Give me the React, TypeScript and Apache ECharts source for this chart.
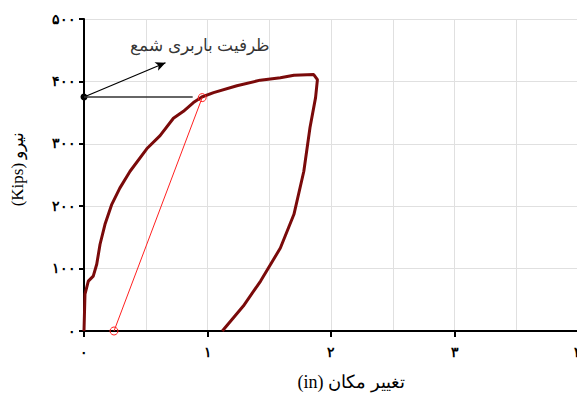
import React, { useEffect, useRef } from "react";
import * as echarts from "echarts";

const xTickLabels = ["۰", "۱", "۲", "۳", "۴"];
const yTickLabels = ["۰", "۱۰۰", "۲۰۰", "۳۰۰", "۴۰۰", "۵۰۰"];

// hysteresis curve (displacement in, load kips)
const curveX = [0, 0.008, 0.035, 0.075, 0.103, 0.13, 0.17, 0.225, 0.29, 0.373, 0.508, 0.616, 0.724, 0.805, 0.886, 0.954, 1.049, 1.238, 1.427, 1.59, 1.7, 1.86, 1.89, 1.875, 1.83, 1.78, 1.7, 1.59, 1.43, 1.29, 1.12];
const curveY = [0, 59, 80, 88, 107, 139, 171, 203, 229, 256, 292, 313, 341, 352, 366, 375, 382, 393, 402, 406, 410, 411, 403, 374, 326, 256, 187, 133, 80, 40, 0];

// secant (red) line
const secantX = [0.243, 0.957];
const secantY = [0, 374];

// capacity marker
const capacityValue = 375;
const capacityLineEndX = 0.88;
const arrowEnd = [0.66, 430];
const annotationText = "ظرفیت باربری شمع";
const annotationPos = [0.94, 458];

const xName = "(in) تغییر مکان";
const yName = "(Kips) نیرو";

const FONT = "'Liberation Serif', 'Times New Roman', 'DejaVu Serif', serif";

export default function App() {
  const ref = useRef<HTMLDivElement>(null);
  useEffect(() => {
    document.body.style.margin = "0";
    document.documentElement.style.overflow = "hidden";
    document.body.style.overflow = "hidden";
    const chart = echarts.init(ref.current!, null, { renderer: "svg", width: 577, height: 394 });
    const toPersian = (v: number, labels: string[], step: number) => {
      const i = Math.round(v / step);
      if (Math.abs(i * step - v) > 1e-6) return "";
      return labels[i] ?? "";
    };
    chart.setOption({
      animation: false,
      backgroundColor: "#ffffff",
      grid: { left: 84, right: -1, top: 19, bottom: 63, containLabel: false, outerBoundsMode: "none" },
      xAxis: {
        type: "value",
        min: 0,
        max: 4,
        interval: 1,
        name: xName,
        nameLocation: "middle",
        nameGap: 42,
        nameTextStyle: { fontFamily: FONT, fontSize: 18, color: "#000", padding: [0, 0, 0, 40] },
        axisLine: { onZero: false, lineStyle: { color: "#000", width: 2 } },
        axisTick: { show: true, inside: false, length: 6, lineStyle: { color: "#000", width: 2 } },
        axisLabel: {
          formatter: (v: number) => toPersian(v, xTickLabels, 1),
          fontFamily: FONT,
          fontSize: 14,
          fontWeight: "bold",
          color: "#000",
          margin: 14,
          showMaxLabel: true,
        },
        splitLine: { show: true, lineStyle: { color: "#e0e0e0", width: 1 } },
        minorTick: { show: false, splitNumber: 2 },
        minorSplitLine: { show: true, lineStyle: { color: "#e0e0e0", width: 1 } },
      },
      yAxis: {
        type: "value",
        min: 0,
        max: 500,
        interval: 100,
        name: yName,
        nameLocation: "middle",
        nameRotate: 90,
        nameGap: 58,
        nameTextStyle: { fontFamily: FONT, fontSize: 17, color: "#000", padding: [0, 0, 0, 12] },
        axisLine: { onZero: false, lineStyle: { color: "#000", width: 2 } },
        axisTick: { show: true, inside: false, length: 5, lineStyle: { color: "#000", width: 2 } },
        axisLabel: {
          formatter: (v: number) => toPersian(v, yTickLabels, 100),
          fontFamily: FONT,
          fontSize: 14,
          fontWeight: "bold",
          color: "#000",
          margin: 8,
        },
        splitLine: { show: true, lineStyle: { color: "#e0e0e0", width: 1 } },
      },
      series: [
        {
          type: "line",
          data: curveX.map((x, i) => [x, curveY[i]]),
          showSymbol: false,
          symbol: "none",
          lineStyle: { color: "#7a0a0a", width: 3 },
          z: 3,
        },
        {
          type: "line",
          data: secantX.map((x, i) => [x, secantY[i]]),
          symbol: "circle",
          symbolSize: 8,
          showSymbol: true,
          itemStyle: { color: "rgba(0,0,0,0)", borderColor: "#ff2020", borderWidth: 1 },
          lineStyle: { color: "#ff2020", width: 1 },
          z: 4,
        },
        {
          type: "line",
          data: [
            [0, capacityValue],
            [capacityLineEndX, capacityValue],
          ],
          symbol: "none",
          lineStyle: { color: "#333", width: 1.5 },
          z: 5,
          markLine: {
            silent: true,
            symbol: ["circle", "arrow"],
            symbolSize: [7, 10],
            label: { show: false },
            lineStyle: { color: "#000", width: 1.2, type: "solid" },
            data: [[{ coord: [0, capacityValue] }, { coord: arrowEnd }]],
          },
        },
        {
          type: "scatter",
          data: [annotationPos],
          symbolSize: 0,
          label: {
            show: true,
            position: "inside",
            formatter: annotationText,
            fontFamily: FONT,
            fontSize: 17,
            color: "#000",
          },
          z: 6,
        },
      ],
    });
    return () => chart.dispose();
  }, []);
  return <div ref={ref} style={{ width: 577, height: 394 }} />;
}
